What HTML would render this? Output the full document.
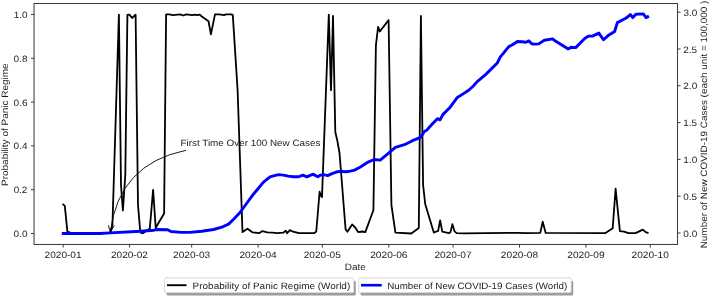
<!DOCTYPE html>
<html><head><meta charset="utf-8"><style>
html,body{margin:0;padding:0;background:#fff;width:710px;height:297px;overflow:hidden}
svg{display:block;will-change:transform;font-family:"Liberation Sans",sans-serif}
text{font-family:"Liberation Sans",sans-serif;text-rendering:geometricPrecision}
</style></head><body>
<svg width="710" height="297" viewBox="0 0 710 297"><rect width="710" height="297" fill="#fff"/><polyline points="62.5,203.9 64.8,205.9 67.4,231.7 70.7,232.9 110.3,233.2 112.44,225 118.9,14.6 121,185 122.9,210.5 125.3,175 127.4,15 129.4,14.6 132.1,18 135.6,14.6 138,205 140.3,232.3 142.8,233.3 149.8,228.5 153.1,189.8 155.7,227.7 164.1,213.5 166.1,14.4 169.4,14.4 172.8,15.1 180.2,14.4 183.2,15.5 186.3,14.4 192.3,15.1 195,14.7 197.1,15.1 199.8,14.7 201.8,16.5 208.5,21.2 210.9,34.4 215,14.4 219.3,14.4 224,15.1 226,14.4 231.4,14.4 232.8,15.1 237.6,90 242.5,232.1 247.5,228.7 252.4,232.3 259.4,233.1 262.4,231.1 267.3,232.3 272.3,232.7 277.3,233.1 283.2,232.7 285.8,230.7 287.2,233.3 289.8,230.1 293.1,231.7 299.1,233.1 314.4,233.2 316.3,231.3 319.6,191.7 321,195.9 322,197.1 328.8,14.6 331,90.2 333,16 335.3,132 337.4,141 339.5,153 341.7,180 343.8,207 345.6,229.5 347.4,231.8 352.1,224.4 355.2,227.5 358.2,232.1 362.2,231.5 365.3,232.1 373.4,210.3 375.9,45.3 378.1,26.8 379.8,31.5 388.6,20.1 391.4,204.9 395.4,232.7 411.3,233.5 418.8,228.1 420.9,15.9 423.1,185 425.2,204 433.8,232.6 436,231.7 438.1,231 440.1,220.3 442.3,231.7 448.8,233.1 450.4,232.4 452.4,224.2 454.6,231.4 456.6,233.1 463.9,233.3 517.5,232.9 527.4,233.1 540.3,232.9 542.7,221.7 545.7,232.9 605.5,233.1 612.7,228.2 615.6,188.7 619.9,231.1 624.2,231.6 628.5,233.1 635.6,233.1 642.8,229.6 645.7,232.2 648.5,233.1" fill="none" stroke="#000" stroke-width="1.8" stroke-linejoin="round"/><polyline points="61.8,233.5 100,233.5 110.1,232.9 140.5,231.2 154,230.2 156.6,229.5 167.6,229.8 171,231.5 181,232.4 190,232.4 201.8,231.2 213.6,229.5 221.8,227.2 228.9,223.9 233.6,219.2 240,212.5 247.3,202.5 253.4,194.2 258.4,188.2 263.5,182.1 270,176.8 273.5,175.8 278.5,174.6 283.4,175.1 288.3,176.1 293.2,176.8 298.9,176.8 302.7,175.1 306.9,176.8 310.1,175.4 313.4,174.2 315.1,175.4 317.9,176.8 320.7,175.1 323.5,174.6 327.7,175.6 332,173.7 336.9,171.8 341.8,171.4 346.1,171.8 350.3,171.1 354.5,170.1 360,167.2 368.1,162.1 374.1,159.5 380.2,160.1 388.3,153.4 395.4,147.4 404.4,144.7 412.5,140.7 420.6,137.3 424.6,131.2 426.7,130.2 431.8,124.6 437.4,118.7 440.1,119.8 442.8,114.6 450.2,107.2 457,97.8 462.3,94.4 468.7,90.2 473.1,86.2 477.2,81.6 485.8,74.4 497.3,63 500.2,57.2 508.8,46.6 512,45 517.4,41.5 522,41.8 526,42.3 528.8,40.9 531.7,43.8 534,44.1 538.7,43.9 544.3,40.2 552.6,38.9 555.4,41.1 568.3,48.9 571.1,47.2 575.7,47.6 585,38.3 588.7,36.1 592.4,36.1 598.9,33.1 603.5,39.8 608.1,35.6 614.6,31.5 617.4,22.6 625.7,18.3 630.4,14.6 632.8,17.6 635.9,14.3 643.3,13.9 646.1,17.6 648.9,16.1" fill="none" stroke="#0000ff" stroke-width="2.9" stroke-linejoin="round"/><path d="M186,150.3 Q118.7,164 110.3,231.9" fill="none" stroke="#000" stroke-width="0.9"/><path d="M108.4,225.3 L110.3,231.9 L114.4,225.6" fill="none" stroke="#000" stroke-width="0.9"/><text x="180.49" y="146.10" font-size="9.2" textLength="139.97" lengthAdjust="spacingAndGlyphs" fill="#1a1a1a">First Time Over 100 New Cases</text><rect x="34.05" y="3.5" width="643.45" height="240.95" fill="none" stroke="#3c3c3c" stroke-width="1.05"/><line x1="30.949999999999996" y1="233.50" x2="34.05" y2="233.50" stroke="#3c3c3c" stroke-width="1"/><text x="13.64" y="237.00" font-size="9.2" textLength="13.90" lengthAdjust="spacingAndGlyphs" fill="#1a1a1a">0.0</text><line x1="30.949999999999996" y1="189.69" x2="34.05" y2="189.69" stroke="#3c3c3c" stroke-width="1"/><text x="13.65" y="193.00" font-size="9.2" textLength="13.69" lengthAdjust="spacingAndGlyphs" fill="#1a1a1a">0.2</text><line x1="30.949999999999996" y1="145.88" x2="34.05" y2="145.88" stroke="#3c3c3c" stroke-width="1"/><text x="13.64" y="149.00" font-size="9.2" textLength="13.89" lengthAdjust="spacingAndGlyphs" fill="#1a1a1a">0.4</text><line x1="30.949999999999996" y1="102.07" x2="34.05" y2="102.07" stroke="#3c3c3c" stroke-width="1"/><text x="13.64" y="106.00" font-size="9.2" textLength="13.99" lengthAdjust="spacingAndGlyphs" fill="#1a1a1a">0.6</text><line x1="30.949999999999996" y1="58.26" x2="34.05" y2="58.26" stroke="#3c3c3c" stroke-width="1"/><text x="13.64" y="62.00" font-size="9.2" textLength="13.93" lengthAdjust="spacingAndGlyphs" fill="#1a1a1a">0.8</text><line x1="30.949999999999996" y1="14.45" x2="34.05" y2="14.45" stroke="#3c3c3c" stroke-width="1"/><text x="13.67" y="18.00" font-size="9.2" textLength="13.88" lengthAdjust="spacingAndGlyphs" fill="#1a1a1a">1.0</text><line x1="677.5" y1="233.00" x2="680.6" y2="233.00" stroke="#3c3c3c" stroke-width="1"/><text x="683.35" y="237.00" font-size="9.2" textLength="13.90" lengthAdjust="spacingAndGlyphs" fill="#1a1a1a">0.0</text><line x1="677.5" y1="196.20" x2="680.6" y2="196.20" stroke="#3c3c3c" stroke-width="1"/><text x="683.36" y="200.00" font-size="9.2" textLength="13.73" lengthAdjust="spacingAndGlyphs" fill="#1a1a1a">0.5</text><line x1="677.5" y1="159.40" x2="680.6" y2="159.40" stroke="#3c3c3c" stroke-width="1"/><text x="683.38" y="163.00" font-size="9.2" textLength="13.88" lengthAdjust="spacingAndGlyphs" fill="#1a1a1a">1.0</text><line x1="677.5" y1="122.60" x2="680.6" y2="122.60" stroke="#3c3c3c" stroke-width="1"/><text x="683.39" y="126.00" font-size="9.2" textLength="13.70" lengthAdjust="spacingAndGlyphs" fill="#1a1a1a">1.5</text><line x1="677.5" y1="85.80" x2="680.6" y2="85.80" stroke="#3c3c3c" stroke-width="1"/><text x="683.31" y="89.00" font-size="9.2" textLength="13.95" lengthAdjust="spacingAndGlyphs" fill="#1a1a1a">2.0</text><line x1="677.5" y1="49.00" x2="680.6" y2="49.00" stroke="#3c3c3c" stroke-width="1"/><text x="683.31" y="53.00" font-size="9.2" textLength="13.78" lengthAdjust="spacingAndGlyphs" fill="#1a1a1a">2.5</text><line x1="677.5" y1="12.20" x2="680.6" y2="12.20" stroke="#3c3c3c" stroke-width="1"/><text x="683.46" y="16.00" font-size="9.2" textLength="13.80" lengthAdjust="spacingAndGlyphs" fill="#1a1a1a">3.0</text><line x1="63.15" y1="244.45" x2="63.15" y2="247.54999999999998" stroke="#3c3c3c" stroke-width="1"/><text x="44.50" y="258.00" font-size="9.2" textLength="37.12" lengthAdjust="spacingAndGlyphs" fill="#1a1a1a">2020-01</text><line x1="129.57" y1="244.45" x2="129.57" y2="247.54999999999998" stroke="#3c3c3c" stroke-width="1"/><text x="110.92" y="258.00" font-size="9.2" textLength="37.05" lengthAdjust="spacingAndGlyphs" fill="#1a1a1a">2020-02</text><line x1="191.70" y1="244.45" x2="191.70" y2="247.54999999999998" stroke="#3c3c3c" stroke-width="1"/><text x="173.05" y="258.00" font-size="9.2" textLength="37.18" lengthAdjust="spacingAndGlyphs" fill="#1a1a1a">2020-03</text><line x1="258.12" y1="244.45" x2="258.12" y2="247.54999999999998" stroke="#3c3c3c" stroke-width="1"/><text x="239.46" y="258.00" font-size="9.2" textLength="37.24" lengthAdjust="spacingAndGlyphs" fill="#1a1a1a">2020-04</text><line x1="322.39" y1="244.45" x2="322.39" y2="247.54999999999998" stroke="#3c3c3c" stroke-width="1"/><text x="303.74" y="258.00" font-size="9.2" textLength="37.09" lengthAdjust="spacingAndGlyphs" fill="#1a1a1a">2020-05</text><line x1="388.81" y1="244.45" x2="388.81" y2="247.54999999999998" stroke="#3c3c3c" stroke-width="1"/><text x="370.16" y="258.00" font-size="9.2" textLength="37.33" lengthAdjust="spacingAndGlyphs" fill="#1a1a1a">2020-06</text><line x1="453.08" y1="244.45" x2="453.08" y2="247.54999999999998" stroke="#3c3c3c" stroke-width="1"/><text x="434.43" y="258.00" font-size="9.2" textLength="37.19" lengthAdjust="spacingAndGlyphs" fill="#1a1a1a">2020-07</text><line x1="519.50" y1="244.45" x2="519.50" y2="247.54999999999998" stroke="#3c3c3c" stroke-width="1"/><text x="500.85" y="258.00" font-size="9.2" textLength="37.28" lengthAdjust="spacingAndGlyphs" fill="#1a1a1a">2020-08</text><line x1="585.92" y1="244.45" x2="585.92" y2="247.54999999999998" stroke="#3c3c3c" stroke-width="1"/><text x="567.27" y="258.00" font-size="9.2" textLength="37.30" lengthAdjust="spacingAndGlyphs" fill="#1a1a1a">2020-09</text><line x1="650.20" y1="244.45" x2="650.20" y2="247.54999999999998" stroke="#3c3c3c" stroke-width="1"/><text x="631.54" y="258.00" font-size="9.2" textLength="37.25" lengthAdjust="spacingAndGlyphs" fill="#1a1a1a">2020-10</text><text x="344.78" y="269.80" font-size="9.2" textLength="21.06" lengthAdjust="spacingAndGlyphs" fill="#1a1a1a">Date</text><text transform="translate(8.00,185.20) rotate(-90)" x="-0.82" y="0" font-size="9.2" textLength="122.66" lengthAdjust="spacingAndGlyphs" fill="#1a1a1a">Probability of Panic Regime</text><text transform="translate(707.10,247.50) rotate(-90)" x="-0.81" y="0" font-size="9.2" textLength="247.63" lengthAdjust="spacingAndGlyphs" fill="#1a1a1a">Number of New COVID-19 Cases (each unit = 100,000 )</text><rect x="166.50" y="280.70" width="189.30" height="14.80" rx="1.6" fill="#9a9a9a"/><rect x="164.50" y="277.9" width="189.30" height="14.80" rx="1.6" fill="#fff" stroke="#cfcfcf" stroke-width="0.8"/><line x1="167.0" y1="285.2" x2="186.5" y2="285.2" stroke="#000" stroke-width="1.9"/><text x="192.63" y="289.00" font-size="9.2" textLength="157.58" lengthAdjust="spacingAndGlyphs" fill="#1a1a1a">Probability of Panic Regime (World)</text><rect x="360.60" y="280.70" width="212.60" height="14.80" rx="1.6" fill="#9a9a9a"/><rect x="358.60" y="277.9" width="212.60" height="14.80" rx="1.6" fill="#fff" stroke="#cfcfcf" stroke-width="0.8"/><line x1="361.0" y1="285.2" x2="381.7" y2="285.2" stroke="#0000ff" stroke-width="2.6"/><text x="387.20" y="289.00" font-size="9.2" textLength="180.01" lengthAdjust="spacingAndGlyphs" fill="#1a1a1a">Number of New COVID-19 Cases (World)</text></svg>
</body></html>
